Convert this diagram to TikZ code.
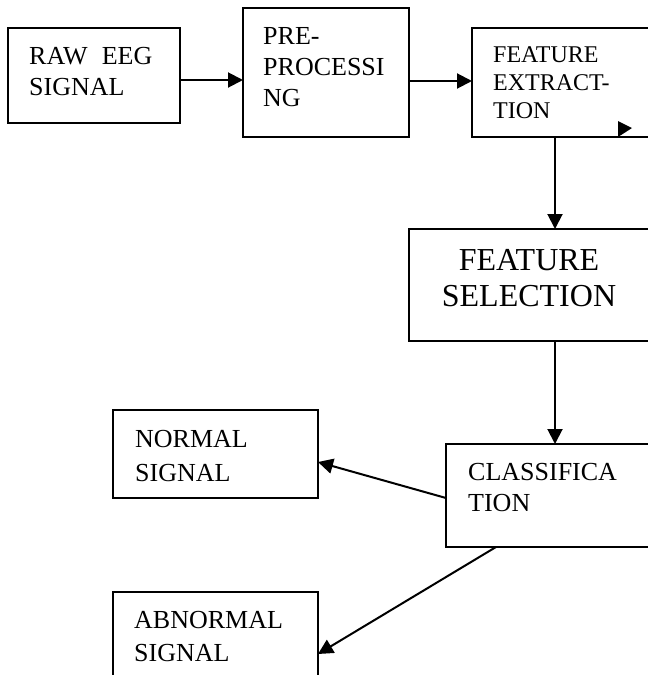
\documentclass[tikz,border=0pt]{standalone}
\usepackage{fontspec}
\setmainfont{Liberation Serif}
\usetikzlibrary{arrows.meta}
\begin{document}
\begin{tikzpicture}[x=1pt,y=-1pt,
 blk/.style={draw, line width=1.5pt, inner sep=0pt, outer sep=0pt, anchor=north west},
 txt/.style={inner sep=0pt, anchor=north west, align=left, font=\fontsize{26}{31}\selectfont},
 arr/.style={line width=2pt, -{Triangle[length=15pt,width=15pt]}}]
\useasboundingbox (0,0) rectangle (648,675);
\clip (0,0) rectangle (648,675);
\fill[white] (0,0) rectangle (648,675);
% boxes
\node[blk, minimum width=172pt, minimum height=95pt] (raw) at (8,28) {};
\node[blk, minimum width=166pt, minimum height=129pt] (pre) at (243,8) {};
\node[blk, minimum width=180pt, minimum height=109pt] (featx) at (472,28) {};
\node[blk, minimum width=243pt, minimum height=112pt] (featsel) at (409,229) {};
\node[blk, minimum width=206pt, minimum height=103pt] (class) at (446,444) {};
\node[blk, minimum width=205pt, minimum height=88pt] (normal) at (113,410) {};
\node[blk, minimum width=205pt, minimum height=120pt] (abnormal) at (113,592) {};
% texts
\node[txt] (rawt) at (29,47) {RAW\hspace{14pt}EEG\\SIGNAL};
\node[txt] (pret) at (263,27) {PRE-\\PROCESSI\\NG};
\node[txt, font=\fontsize{24}{28}\selectfont] (featxt) at (493,46) {FEATURE\\EXTRACT-\\TION};
\node[inner sep=0pt, anchor=north, align=center, font=\fontsize{32}{36}\selectfont] (featselt) at (529,249) {FEATURE\\SELECTION};
\node[txt] (classt) at (468,463) {CLASSIFICA\\TION};
\node[txt, font=\fontsize{26}{34}\selectfont] (normalt) at (135,430) {NORMAL\\SIGNAL};
\node[txt, font=\fontsize{26}{33}\selectfont] (abnormalt) at (134,611) {ABNORMAL\\SIGNAL};
% stray marker in feature extraction box
\fill (618,121) -- (618,137) -- (632,128) -- cycle;
% connectors
\draw[arr] (raw.east |- 0,80) -- (pre.west |- 0,80);
\draw[arr] (pre.east |- 0,81) -- (featx.west |- 0,81);
\draw[arr] (featx.south -| 555,0) -- (featsel.north -| 555,0);
\draw[arr] (featsel.south -| 555,0) -- (class.north -| 555,0);
\draw[arr] (class.west |- 0,498) -- (normal.east |- 0,462);
\draw[arr] (class.south -| 496,0) -- (abnormal.east |- 0,654);
\end{tikzpicture}
\end{document}
